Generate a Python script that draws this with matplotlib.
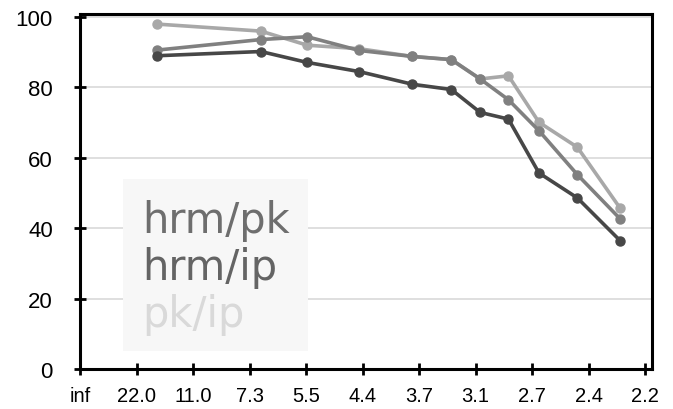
import matplotlib.pyplot as plt
from matplotlib.patches import Rectangle

# x positions are in tick-slot units (0 = "inf", 10 = "2.2")
tick_labels = ["inf", "22.0", "11.0", "7.3", "5.5", "4.4", "3.7", "3.1", "2.7", "2.4", "2.2"]
x_pos = [1.36, 3.20, 4.02, 4.94, 5.88, 6.57, 7.08, 7.58, 8.12, 8.80, 9.56]

hrm_pk = [90.6, 93.6, 94.4, 90.5, 88.8, 87.9, 82.4, 76.5, 67.7, 55.2, 42.6]
hrm_ip = [89.0, 90.2, 87.1, 84.5, 80.9, 79.4, 72.9, 71.0, 55.7, 48.6, 36.4]
pk_ip = [98.0, 96.0, 92.0, 91.0, 88.8, 87.9, 82.4, 83.3, 70.1, 63.0, 45.6]

series = [
    ("hrm/pk", hrm_pk, "#808080", "#6e6e6e"),
    ("hrm/ip", hrm_ip, "#474747", "#646464"),
    ("pk/ip", pk_ip, "#a8a8a8", "#d9d9d9"),
]

fig = plt.figure(figsize=(6.73, 4.10), dpi=100)
ax = fig.add_axes([0.1189, 0.0976, 0.8499, 0.8670])

# draw the lightest line first so the darker ones sit on top
for name, vals, col, _ in [series[2], series[0], series[1]]:
    ax.plot(x_pos, vals, color=col, lw=2.6, marker="o", ms=6.5, zorder=3)

ax.set_xlim(0, 10.12)
ax.set_ylim(0, 101)
ax.set_xticks(range(len(tick_labels)))
ax.set_xticklabels(tick_labels)
ax.set_yticks([0, 20, 40, 60, 80, 100])
ax.yaxis.grid(True, color="#d9d9d9", lw=1.2)
ax.set_axisbelow(True)

for sp in ax.spines.values():
    sp.set_linewidth(2.2)
    sp.set_color("black")
ax.tick_params(direction="inout", length=9, width=2, color="black")
ax.tick_params(axis="x", pad=8, labelsize=14.5)
ax.tick_params(axis="y", pad=15, labelsize=16)
for lab in ax.get_xticklabels() + ax.get_yticklabels():
    lab.set_fontfamily("Liberation Sans")

# legend box drawn by hand: plain coloured words on a pale panel
ax.add_patch(Rectangle((0.075, 0.0506), 0.323, 0.4834, transform=ax.transAxes,
                       facecolor="#f7f7f7", edgecolor="none", zorder=4))
for (name, _, _, tcol), yb in zip(series, [0.3854, 0.2532, 0.121]):
    ax.text(0.108, yb, name, transform=ax.transAxes, color=tcol, fontsize=30,
            family="DejaVu Sans", va="baseline", ha="left", zorder=5)

fig.savefig("out.png", dpi=100)
